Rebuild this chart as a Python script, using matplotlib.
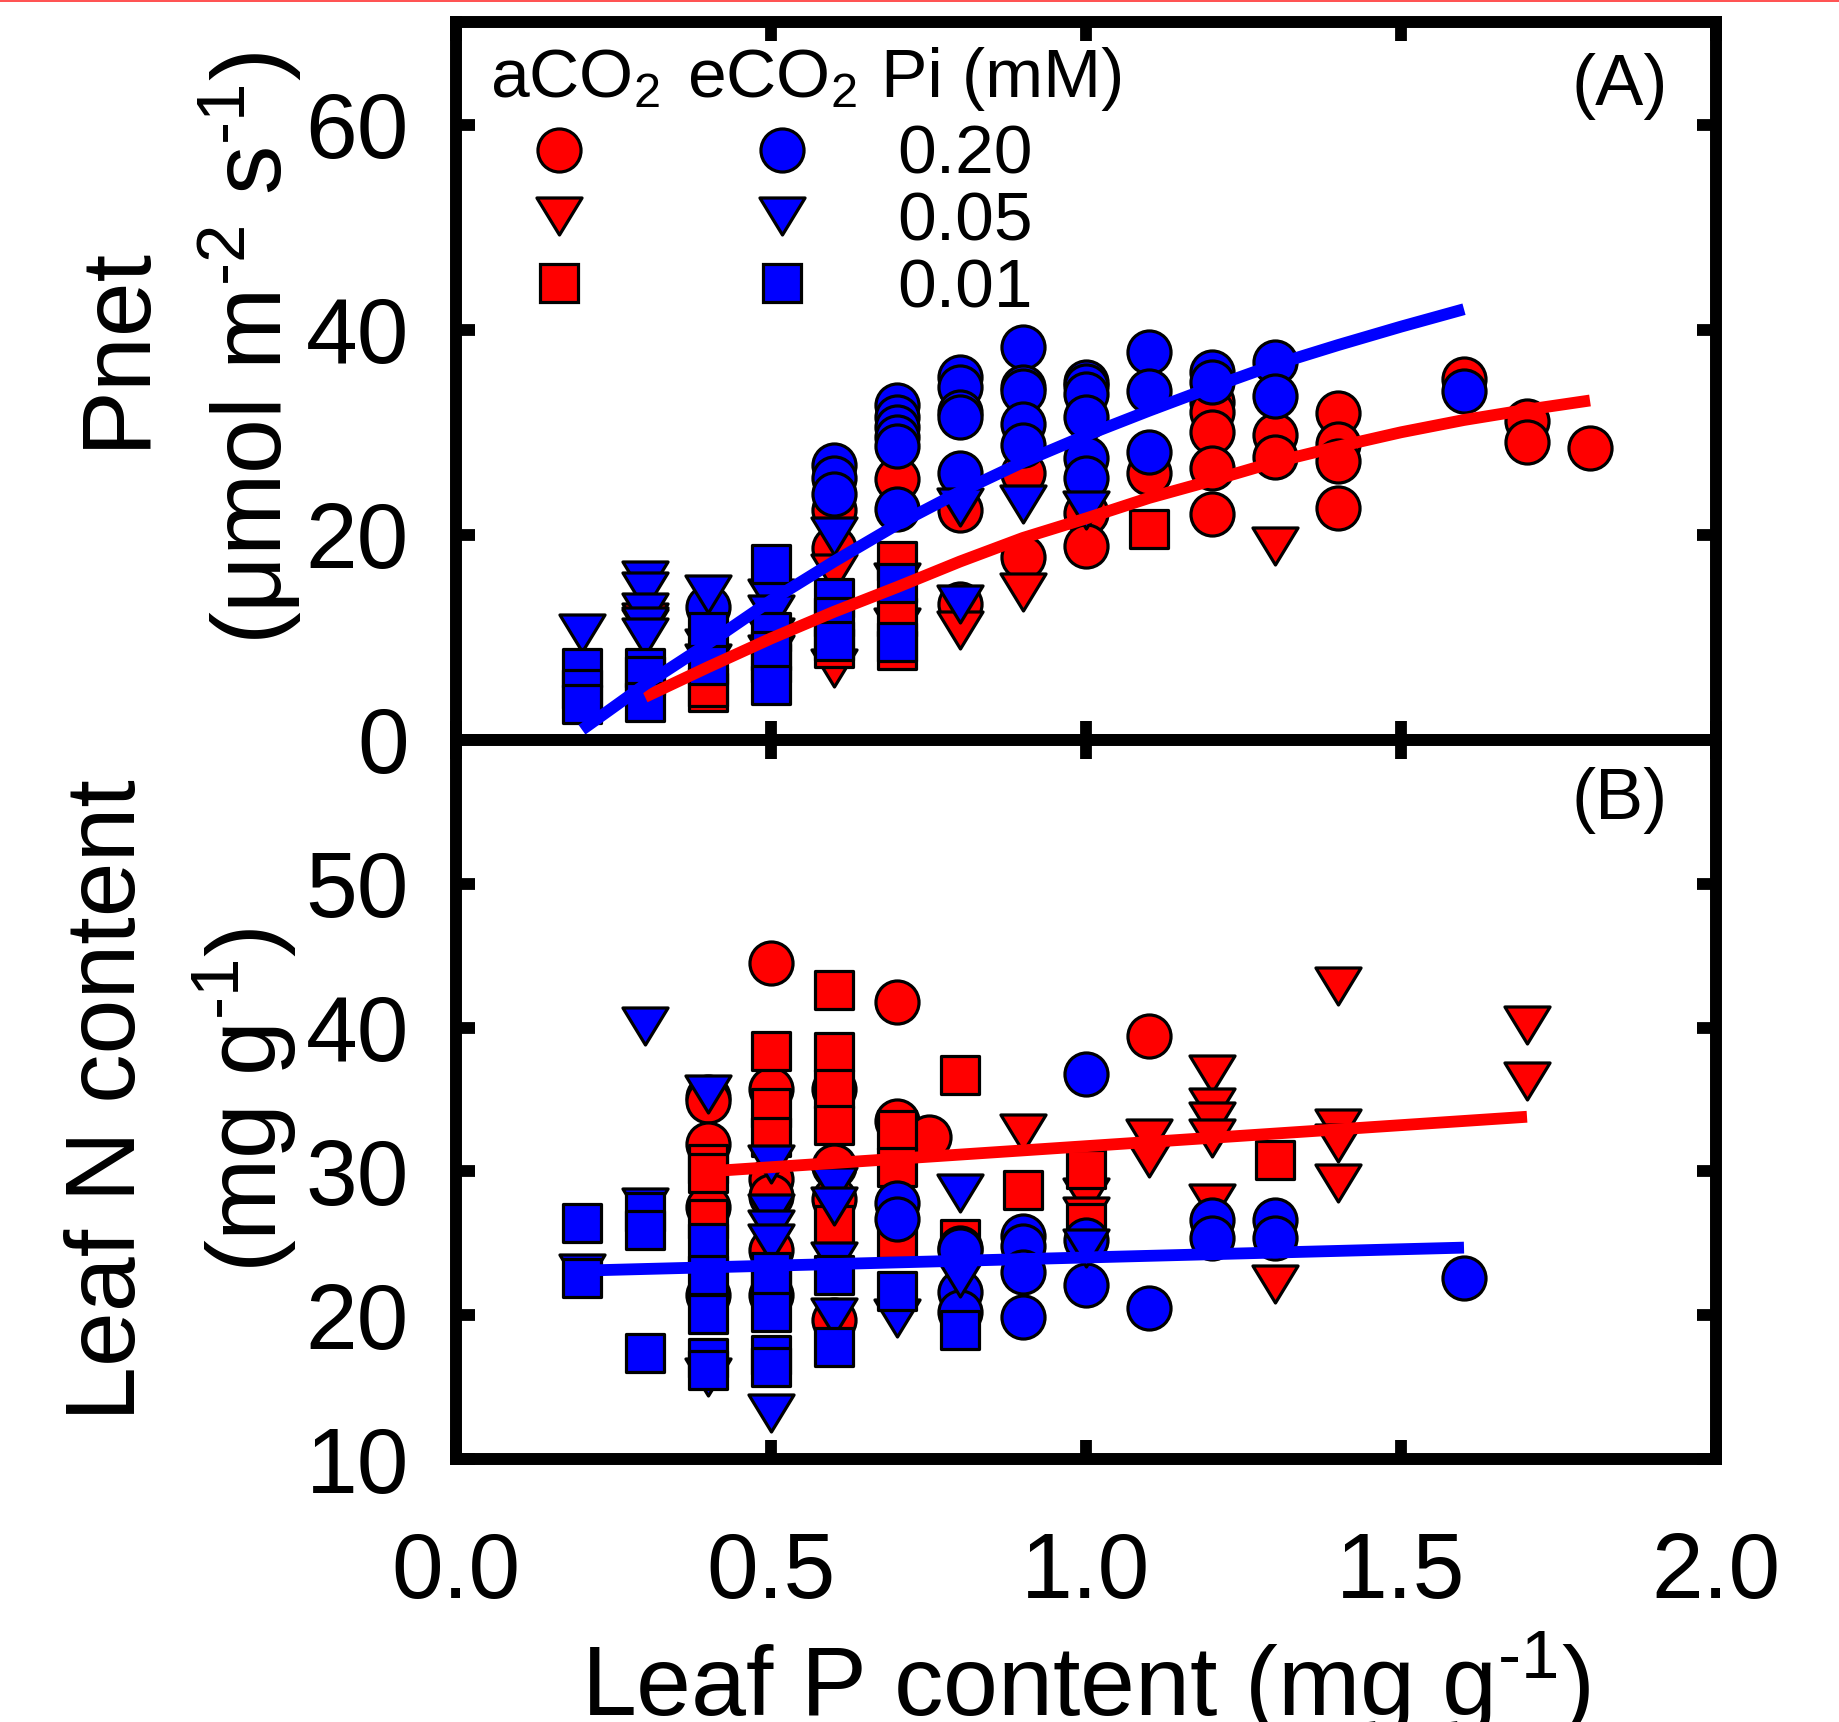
import matplotlib
matplotlib.use("Agg")
import matplotlib.pyplot as plt
from matplotlib.lines import Line2D
from matplotlib.path import Path
from matplotlib.ticker import FormatStrFormatter

plt.rcParams["font.family"] = ["Liberation Sans", "DejaVu Sans"]
plt.rcParams["mathtext.fontset"] = "custom"
plt.rcParams["mathtext.rm"] = "Liberation Sans"
plt.rcParams["mathtext.it"] = "Liberation Sans:italic"
plt.rcParams["mathtext.bf"] = "Liberation Sans:bold"

RED = "#ff0000"
BLUE = "#0000ff"

# ---- Panel A: Pnet vs leaf P ----
# aCO2 (red), Pi 0.20 / 0.05 / 0.01
pnet_a020_x = [0.6, 0.6, 0.7, 0.8, 0.8, 0.9, 0.9, 1.0, 1.0, 1.1, 1.2, 1.2, 1.2, 1.2, 1.2,
               1.3, 1.3, 1.4, 1.4, 1.4, 1.4, 1.6, 1.7, 1.7, 1.8]
pnet_a020_y = [22.4, 18.7, 25.4, 22.4, 13.3, 26.0, 17.8, 22.1, 18.9, 26.0, 33.0, 32.0, 30.0, 26.5, 22.0,
               29.7, 27.6, 31.9, 28.9, 27.2, 22.6, 35.2, 31.1, 29.1, 28.5]
pnet_a005_x = [0.3, 0.3, 0.4, 0.4, 0.5, 0.5, 0.6, 0.6, 0.7, 0.7, 0.8, 0.9, 1.3]
pnet_a005_y = [10.9, 11.5, 9.0, 7.5, 10.0, 8.4, 16.3, 7.0, 15.4, 11.0, 10.7, 14.4, 18.9]
pnet_a001_x = [0.4, 0.4, 0.5, 0.6, 0.7, 0.7, 0.7, 1.1]
pnet_a001_y = [4.7, 5.2, 7.5, 9.0, 17.5, 12.0, 8.8, 20.6]
# eCO2 (blue)
pnet_e020_x = [0.4, 0.6, 0.6, 0.6, 0.7, 0.7, 0.7, 0.7, 0.7, 0.7, 0.8, 0.8, 0.8, 0.8, 0.8,
               0.9, 0.9, 0.9, 0.9, 0.9, 1.0, 1.0, 1.0, 1.0, 1.0, 1.0, 1.1, 1.1, 1.1,
               1.2, 1.2, 1.3, 1.3, 1.6]
pnet_e020_y = [13.0, 26.8, 25.5, 24.0, 32.7, 31.5, 30.5, 29.5, 28.7, 22.5, 35.4, 34.4, 32.0, 31.5, 26.0,
               38.3, 34.4, 34.0, 30.8, 28.8, 34.9, 34.5, 33.7, 31.5, 27.5, 25.5, 37.8, 34.0, 28.1,
               35.9, 34.9, 36.9, 33.5, 34.0]
pnet_e005_x = [0.2, 0.3, 0.3, 0.3, 0.3, 0.3, 0.4, 0.5, 0.5, 0.6, 0.8, 0.8, 0.9, 1.0]
pnet_e005_y = [10.4, 15.6, 14.5, 12.5, 11.1, 10.0, 14.2, 13.8, 12.3, 19.9, 22.7, 13.3, 23.0, 22.4]
pnet_e001_x = [0.2, 0.2, 0.2, 0.3, 0.3, 0.3, 0.4, 0.4, 0.5, 0.5, 0.5, 0.5, 0.6, 0.6, 0.6, 0.7, 0.7]
pnet_e001_y = [7.0, 5.0, 3.5, 7.0, 6.2, 3.7, 10.5, 7.3, 17.2, 10.5, 8.7, 5.4, 13.8, 12.0, 9.7, 15.3, 9.6]
# fitted curves
pnet_fit_e_x = [0.2, 0.3, 0.4, 0.5, 0.6, 0.7, 0.8, 0.9, 1.0, 1.1, 1.2, 1.3, 1.4, 1.5, 1.6]
pnet_fit_e_y = [1.0, 5.4, 9.4, 13.6, 17.4, 21.0, 24.2, 27.1, 29.7, 32.1, 34.4, 36.6, 38.5, 40.3, 42.0]
pnet_fit_a_x = [0.3, 0.4, 0.5, 0.6, 0.7, 0.8, 0.9, 1.0, 1.1, 1.2, 1.3, 1.4, 1.5, 1.6, 1.7, 1.8]
pnet_fit_a_y = [4.2, 7.1, 9.9, 12.5, 14.9, 17.4, 19.7, 21.6, 23.6, 25.3, 27.1, 28.6, 30.0, 31.2, 32.2, 33.1]

# ---- Panel B: leaf N vs leaf P ----
leafn_a020_x = [0.4, 0.4, 0.4, 0.4, 0.5, 0.5, 0.5, 0.5, 0.5, 0.6, 0.6, 0.6, 0.6, 0.7, 0.7, 0.75, 1.1]
leafn_a020_y = [35.2, 34.9, 31.9, 27.5, 44.5, 35.7, 29.5, 28.3, 24.5, 35.7, 30.4, 28.1, 19.7, 41.8, 33.5, 32.4, 39.4]
leafn_a005_x = [0.9, 1.0, 1.0, 1.1, 1.1, 1.2, 1.2, 1.2, 1.2, 1.2, 1.3, 1.4, 1.4, 1.4, 1.4, 1.7, 1.7]
leafn_a005_y = [32.7, 28.2, 26.9, 32.3, 30.9, 36.8, 34.5, 33.5, 32.3, 27.8, 22.2, 42.9, 33.0, 32.0, 29.2, 40.2, 36.3]
leafn_a001_x = [0.4, 0.4, 0.4, 0.5, 0.5, 0.5, 0.6, 0.6, 0.6, 0.6, 0.6, 0.7, 0.7, 0.7, 0.8, 0.8, 0.9, 1.0, 1.0, 1.3]
leafn_a001_y = [30.5, 29.9, 26.7, 38.4, 34.4, 32.4, 42.6, 38.3, 35.7, 33.2, 26.3, 32.9, 30.3, 25.3, 36.7, 25.3,
                28.7, 30.2, 26.4, 30.8]
leafn_e020_x = [0.4, 0.5, 0.7, 0.7, 0.8, 0.8, 0.8, 0.8, 0.9, 0.9, 0.9, 0.9, 1.0, 1.0, 1.0, 1.1,
                1.2, 1.2, 1.3, 1.3, 1.6]
leafn_e020_y = [21.4, 21.4, 27.8, 26.7, 24.7, 24.5, 21.6, 20.2, 25.5, 24.8, 23.0, 19.9, 36.8, 25.2, 22.1, 20.5,
                26.6, 25.4, 26.6, 25.4, 22.6]
leafn_e005_x = [0.2, 0.3, 0.3, 0.4, 0.4, 0.5, 0.5, 0.5, 0.5, 0.5, 0.6, 0.6, 0.6, 0.6, 0.7, 0.8, 0.8, 1.0]
leafn_e005_y = [22.9, 40.1, 27.5, 35.4, 15.7, 30.5, 27.1, 26.0, 25.0, 13.2, 29.0, 27.6, 23.8, 19.9, 19.8, 28.5,
                22.6, 24.7]
leafn_e001_x = [0.2, 0.2, 0.3, 0.3, 0.3, 0.4, 0.4, 0.4, 0.4, 0.4, 0.5, 0.5, 0.5, 0.5, 0.5, 0.6, 0.6, 0.7, 0.8]
leafn_e001_y = [26.4, 22.6, 27.2, 25.9, 17.4, 25.0, 22.8, 20.1, 17.0, 16.2, 23.0, 22.1, 20.2, 17.2, 16.4,
                22.8, 17.8, 21.7, 19.0]
leafn_fit_a_x = [0.4, 1.7]
leafn_fit_a_y = [30.0, 33.8]
leafn_fit_e_x = [0.2, 1.6]
leafn_fit_e_y = [23.1, 24.7]

pi_labels = ["0.20", "0.05", "0.01"]
x_ticks = [0.0, 0.5, 1.0, 1.5, 2.0]

# flattened downward triangle (wider than tall, like the original)
tri = Path([(-0.5, 0.41), (0.5, 0.41), (0.0, -0.41), (-0.5, 0.41)],
           [Path.MOVETO, Path.LINETO, Path.LINETO, Path.CLOSEPOLY])
MARKERS = {"o": ("o", 31), "v": (tri, 32.5), "s": ("s", 27)}
EDGE_W = 2.3
HY = "\u2010"  # short hyphen for the unit exponents

W, H = 1839, 1722
fig = plt.figure(figsize=(W / 100, H / 100), dpi=100)
ax1 = fig.add_axes([456 / W, 1 - 740 / H, 1260 / W, 718 / H])
ax2 = fig.add_axes([456 / W, 1 - 1459 / H, 1260 / W, 719 / H])


def scatter_group(ax, x, y, key, color):
    m, size = MARKERS[key]
    ax.scatter(x, y, s=size ** 2, marker=m, facecolor=color, edgecolor="black",
               linewidths=EDGE_W, zorder=3, clip_on=False)


for ax, groups, fits in [
    (ax1,
     [(pnet_a020_x, pnet_a020_y, "o", RED), (pnet_a005_x, pnet_a005_y, "v", RED),
      (pnet_a001_x, pnet_a001_y, "s", RED), (pnet_e020_x, pnet_e020_y, "o", BLUE),
      (pnet_e005_x, pnet_e005_y, "v", BLUE), (pnet_e001_x, pnet_e001_y, "s", BLUE)],
     [(pnet_fit_a_x, pnet_fit_a_y, RED), (pnet_fit_e_x, pnet_fit_e_y, BLUE)]),
    (ax2,
     [(leafn_a020_x, leafn_a020_y, "o", RED), (leafn_a005_x, leafn_a005_y, "v", RED),
      (leafn_a001_x, leafn_a001_y, "s", RED), (leafn_e020_x, leafn_e020_y, "o", BLUE),
      (leafn_e005_x, leafn_e005_y, "v", BLUE), (leafn_e001_x, leafn_e001_y, "s", BLUE)],
     [(leafn_fit_a_x, leafn_fit_a_y, RED), (leafn_fit_e_x, leafn_fit_e_y, BLUE)]),
]:
    for x, y, key, color in groups:
        scatter_group(ax, x, y, key, color)
    for x, y, color in fits:
        ax.plot(x, y, color=color, linewidth=8.5, solid_capstyle="butt", zorder=5)

    ax.set_xlim(0, 2)
    ax.set_xticks(x_ticks)
    ax.xaxis.set_major_formatter(FormatStrFormatter("%.1f"))
    for sp in ax.spines.values():
        sp.set_linewidth(8.6)
    ax.tick_params(direction="in", length=13.5, width=8.5, top=True, right=True,
                   labelsize=67)
    ax.tick_params(axis="y", pad=34)
    ax.tick_params(axis="x", pad=52)

ax1.set_ylim(0, 70)
ax1.set_yticks([0, 20, 40, 60])
ax1.tick_params(labelbottom=False)
ax2.set_ylim(10, 60)
ax2.set_yticks([10, 20, 30, 40, 50])

# panel letters
ax1.text((1668 - 456) / 1260, (740 - 86) / 718, "(A)", transform=ax1.transAxes,
         ha="right", va="center", fontsize=52)
ax2.text((1668 - 456) / 1260, (1459 - 801) / 719, "(B)", transform=ax2.transAxes,
         ha="right", va="center", fontsize=52)

# legend header
hdr_y = (740 - 97) / 718
for px, txt in [(490, "aCO$_2$"), (687, "eCO$_2$"), (881, "Pi (mM)")]:
    ax1.text((px - 456) / 1260, hdr_y, txt, transform=ax1.transAxes,
             ha="left", va="baseline", fontsize=50)

# legend: red column (no labels), blue column with Pi levels
handles = []
labels = []
for color in (RED, BLUE):
    for i, key in enumerate(["o", "v", "s"]):
        m, size = MARKERS[key]
        handles.append(Line2D([], [], linestyle="none", marker=m, markersize=size,
                              markerfacecolor=color, markeredgecolor="black",
                              markeredgewidth=EDGE_W))
        labels.append(pi_labels[i] if color == BLUE else "")
ax1.legend(handles, labels, ncol=2, loc="upper left",
           bbox_to_anchor=((524 - 456) / 1260, (740 - 124) / 718),
           frameon=False, fontsize=50, borderpad=0, borderaxespad=0,
           handlelength=1.0, handletextpad=1.17, columnspacing=1.04,
           labelspacing=0.04)

# axis titles
fig.text(117 / W, 1 - 346 / H, "Pnet", rotation=90, ha="center", va="center", fontsize=71)
fig.text(250 / W, 1 - 348 / H, "(\u03bcmol m$^{" + HY + "2}$ s$^{" + HY + "1}$)", rotation=90,
         ha="center", va="center", fontsize=71)
fig.text(110 / W, 1 - 1100 / H, "Leaf N content", rotation=90, ha="center", va="center",
         fontsize=71)
fig.text(244 / W, 1 - 1100 / H, "(mg g$^{" + HY + "1}$)", rotation=90, ha="center", va="center",
         fontsize=71)
fig.text(1086 / W, 1 - 1715 / H, "Leaf P content (mg g$^{" + HY + "1}$)", ha="center",
         va="baseline", fontsize=71)

# thin red rule along the top edge
fig.add_artist(Line2D([0, 1], [1 - 1 / H, 1 - 1 / H], transform=fig.transFigure,
                      color="#ff5050", linewidth=1.4))

fig.savefig("out.png", dpi=100)
